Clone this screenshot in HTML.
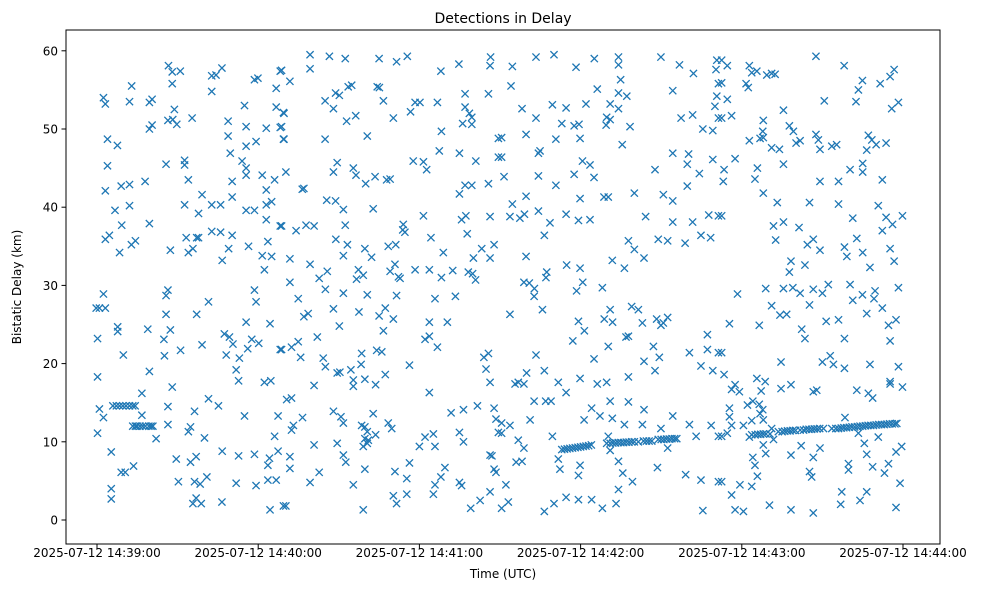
<!DOCTYPE html>
<html><head><meta charset="utf-8"><style>
html,body{margin:0;padding:0;background:#fff;}
svg text{font-family:"DejaVu Sans","Liberation Sans",sans-serif;fill:#000;}
</style></head><body>
<svg id="chart" width="984" height="590" viewBox="0 0 984 590" xmlns="http://www.w3.org/2000/svg">
<rect x="0" y="0" width="984" height="590" fill="#fff"/>
<text x="503" y="23" font-size="14" text-anchor="middle">Detections in Delay</text>
<text x="503" y="578" font-size="12" text-anchor="middle">Time (UTC)</text>
<text x="21" y="287" font-size="12" text-anchor="middle" transform="rotate(-90 21 287)">Bistatic Delay (km)</text>
<g id="marks"></g>
<g id="axes"></g>
<rect x="66" y="30" width="874" height="514" fill="none" stroke="#000" stroke-width="1"/>
</svg>
<script>
const xTickSeconds=[0,60,120,180,240,300];
const xTickLabels=["2025-07-12 14:39:00","2025-07-12 14:40:00","2025-07-12 14:41:00","2025-07-12 14:42:00","2025-07-12 14:43:00","2025-07-12 14:44:00"];
const yTicks=[0,10,20,30,40,50,60];
const p1t=[26.6,28.0,31.0,28.0,42.7,44.3,46.5,42.7,12.9,2.4,3.1,12.1,19.5,20.5,28.8,26.4,28.2,29.7,35.4,19.5,20.5,3.9,7.6,3.9,25.7,32.6,32.6,34.0,3.1,9.0,12.1,17.9,6.7,12.1,9.2,19.5,3.1,4.6,8.4,12.8,14.3,27.3,33.2,34.0,35.7,37.1,37.8,42.7,46.0,50.3,49.0,46.6,56.4,48.8,55.5,63.0,68.2,48.8,55.5,59.2,49.6,54.0,55.5,55.5,61.5,66.1,63.0,63.0,65.0,50.3,50.3,39.1,37.8,32.6,42.7,46.0,55.5,58.6,63.0,68.2,63.6,61.5,65.0,62.3,54.9,66.7,66.7,58.6,59.9,68.2,69.4,69.4,
2.4,-0.3,0.9,3.1,26.4,25.7,41.5,59.2,58.6,25.7,37.1,55.5,64.4,7.7,7.7,18.9,27.3,24.9,0.2,47.4,49.3,50.6,39.1,57.6,60.2,56.1,68.2,9.8,25.1,31.1,48.1,53.0,51.8,52.7,62.3,64.7,0.2,19.5,28.0,16.7,0.9,2.4,16.7,26.4,36.3,41.5,45.2,54.9,67.4,0.2,22.0,26.4,34.0,34.8,40.0,66.1,5.3,29.5,34.8,36.9,46.6,52.7,58.6,64.2,67.4,63.6,9.0,10.5,13.6,30.3,36.3,38.4,40.9,51.8,59.2,63.6,66.7,5.3,5.3,35.7,36.9,38.8,46.5,64.4,69.4];
const p1d=[58.1,57.3,57.4,55.8,56.8,56.9,57.8,54.8,55.5,54.0,53.2,53.5,53.4,53.8,52.5,51.1,51.2,50.6,51.4,50.0,50.5,48.7,47.9,45.3,45.5,46.0,45.4,43.5,42.1,42.7,42.9,43.3,39.6,40.2,37.7,37.9,35.9,36.4,34.2,35.2,35.7,34.5,36.1,34.2,34.7,36.1,36.1,36.9,36.8,36.4,34.7,33.2,35.0,51.0,50.3,50.1,50.2,49.1,47.8,48.4,46.9,45.9,45.0,44.1,44.1,43.5,42.2,40.3,40.7,43.3,41.3,41.6,39.2,40.3,40.3,40.3,39.6,39.6,38.4,37.6,35.6,33.8,33.7,32.0,53.0,52.8,55.2,56.3,56.5,57.4,52.1,48.7,
28.9,27.1,27.1,27.1,29.4,28.7,27.9,27.9,29.4,26.3,26.3,25.3,25.1,24.7,24.1,24.4,24.3,23.1,23.2,23.8,23.4,22.5,22.4,23.1,22.6,21.9,21.8,21.1,21.0,21.7,21.1,20.7,19.2,17.8,17.6,17.8,18.3,19.0,17.0,16.2,14.2,13.1,13.4,14.5,13.9,15.5,14.6,13.3,13.3,11.1,10.4,12.2,11.3,11.9,10.5,10.7,8.7,7.8,7.4,8.1,8.8,8.2,8.4,7.9,8.8,7.0,6.1,6.1,6.9,4.9,4.9,4.6,5.5,4.7,4.4,5.1,5.1,4.0,2.7,2.1,2.8,2.1,2.3,1.3,1.8];
const p2t=[79.3,86.5,92.4,105.0,111.5,115.5,79.3,128.0,134.7,146.5,146.3,68.7,71.8,88.8,90.2,93.5,94.8,104.3,105.1,84.9,88.0,106.6,118.4,120.2,126.7,116.7,137.0,145.7,137.0,138.6,139.5,136.1,139.5,110.3,92.9,96.3,69.6,68.7,69.6,84.9,100.6,128.2,149.4,127.4,134.9,141.0,149.4,117.7,121.5,122.7,89.4,88.0,95.4,96.4,100.0,103.5,107.8,109.1,70.3,76.4,77.0,134.9,137.0,139.5,145.7,85.5,88.8,91.7,102.8,68.7,74.1,77.8,80.8,92.4,121.5,135.7,137.3,146.3,114.0,114.6,113.8,88.9,93.2,91.7,99.7,102.2,124.3,137.8,108.4,111.2,71.8,79.3,82.7,85.7,85.0,91.7,97.3,96.6,99.1,100.6,109.1,110.9,112.2,112.8,118.4,123.7,128.2,132.4,138.2,139.8,140.9,140.1,143.2,147.8,146.3,128.9,
71.8,74.9,77.0,78.6,88.0,90.2,97.5,105.0,107.3,110.3,111.5,106.6,125.8,133.4,123.7,130.4,122.1,123.7,126.7,68.7,72.4,74.9,75.8,82.0,84.2,85.0,89.4,90.4,94.5,98.3,98.5,95.4,95.4,99.7,103.7,107.3,104.1,106.0,116.3,80.8,123.7,144.0,145.7,144.8,146.3,70.6,72.4,76.5,73.1,72.4,88.0,90.8,91.7,98.5,99.7,100.6,99.7,101.0,103.7,102.8,108.4,109.7,131.8,136.4,141.6,147.8,148.5,149.4,80.8,89.4,91.7,92.6,99.1,100.6,120.0,122.1,125.2,125.8,134.9,136.4,71.8,71.8,79.3,82.7,95.4,99.7,110.9,116.3,115.3,110.3,111.5,115.3,125.2,125.8,128.0,129.5,134.9,135.7,146.3,147.0,147.8,148.5,146.3,142.6,139.1,70.3,99.1];
const p2d=[59.5,59.3,59.0,59.0,58.6,59.3,57.7,57.4,58.3,59.2,58.1,57.5,56.1,54.6,54.3,55.4,55.6,55.4,55.3,53.6,52.6,53.6,53.4,53.4,53.4,52.2,54.5,54.5,52.8,52.0,51.5,50.7,50.6,51.4,51.0,51.7,52.0,50.3,48.7,48.7,49.1,49.7,48.8,47.2,46.9,45.9,46.4,45.9,45.8,44.8,45.7,44.5,45.0,44.1,43.0,43.9,43.5,43.6,44.5,42.3,42.4,41.7,42.8,42.8,43.0,40.9,40.8,39.7,39.8,37.6,37.0,37.7,37.6,37.7,38.9,38.4,38.9,38.8,37.8,36.8,37.1,35.9,35.2,33.8,34.7,33.6,36.1,36.6,35.0,35.2,33.4,32.7,30.9,31.8,29.5,29.0,32.0,30.8,31.3,28.8,31.8,32.7,31.1,30.9,32.0,32.0,31.0,31.9,31.7,31.5,30.7,33.5,34.7,35.2,33.5,34.2,
30.4,28.3,26.0,26.4,27.0,24.8,26.6,26.1,27.1,25.7,28.7,24.2,28.3,28.6,25.3,25.3,23.1,23.5,22.1,21.8,22.1,22.8,20.8,23.4,20.7,19.6,18.8,18.9,19.2,19.9,21.3,17.9,17.1,18.0,17.3,18.6,21.7,21.5,19.8,17.2,16.3,20.8,21.3,19.3,17.6,15.4,15.6,13.1,12.1,11.5,13.9,13.2,12.4,12.1,11.9,11.3,10.4,10.2,10.9,13.6,12.4,11.7,13.7,14.1,14.6,14.3,12.9,11.2,9.6,9.8,8.3,7.4,9.4,9.8,9.4,10.6,11.0,9.4,11.2,10.0,8.1,6.6,4.8,6.1,4.5,6.5,6.2,7.3,5.3,3.1,2.1,3.3,3.3,4.5,5.5,6.7,4.8,4.4,8.3,8.2,6.5,6.1,3.6,2.5,1.5,1.8,1.3];
const p3t=[154.6,163.4,170.1,178.3,185.1,194.1,194.1,194.9,209.9,216.8,222.0,230.7,230.4,154.1,186.2,194.1,197.2,214.3,231.3,230.7,230.0,158.2,169.5,174.6,182.0,191.0,194.1,163.4,173.0,177.6,179.4,189.7,191.0,189.5,198.4,217.4,221.7,225.5,229.2,231.3,159.7,170.8,179.8,150.6,195.5,150.6,164.3,164.9,180.7,183.5,185.0,177.6,164.3,170.8,151.5,207.7,214.3,220.2,219.7,224.2,219.7,229.2,154.6,159.7,179.8,188.7,190.3,200.0,210.8,214.3,153.7,157.4,159.1,164.3,168.6,174.6,179.2,183.5,166.5,204.2,214.3,221.7,227.7,231.3,224.8,228.4,218.9,208.9,212.4,197.8,200.0,203.6,191.8,196.3,159.7,174.8,179.8,158.9,160.9,162.8,162.7,167.4,167.1,178.5,180.8,188.1,
165.8,153.7,179.2,181.4,177.1,188.8,191.0,191.9,196.9,197.8,199.0,201.5,203.0,208.3,209.9,210.8,212.4,207.1,209.3,203.6,207.7,185.0,190.3,163.4,166.5,159.9,155.6,156.8,158.9,171.7,174.6,179.8,186.2,189.7,197.8,220.5,224.8,227.2,227.2,229.2,231.3,162.7,167.0,169.0,161.2,153.7,150.6,150.6,181.3,184.1,187.2,191.0,191.8,196.3,197.8,203.0,203.6,209.9,214.3,220.5,223.0,228.6,231.3,156.8,158.9,156.0,158.2,169.5,171.7,172.3,179.8,179.2,190.3,191.0,194.1,195.7,199.3,208.6,212.4,219.1,224.8,231.3,152.2,194.1,153.1,150.6,166.5,170.1,174.6,179.2,184.1,188.1,193.2,225.5];
const p3d=[58.0,59.2,59.5,57.9,59.0,59.2,58.2,56.3,59.2,58.2,57.1,58.8,57.6,55.5,55.1,54.6,54.2,54.9,55.8,54.2,52.9,52.6,53.1,52.7,53.2,53.2,52.6,51.4,50.7,50.4,50.6,51.5,51.2,50.5,50.3,51.4,51.8,50.0,49.8,51.4,49.3,48.7,48.8,48.9,48.0,46.4,46.9,47.2,45.9,45.4,43.8,44.2,44.0,42.8,43.9,44.8,46.9,46.8,45.5,44.3,42.7,46.1,40.4,41.4,41.1,41.3,41.3,41.8,41.6,40.8,38.8,38.6,39.1,39.5,38.0,39.1,38.3,38.4,36.4,38.8,38.1,38.1,39.0,38.9,36.4,36.1,35.4,35.9,35.7,35.7,34.6,33.5,33.2,32.2,33.7,32.6,32.2,30.4,30.3,29.6,28.6,31.7,31.0,29.3,30.4,29.7,
26.9,26.3,25.4,24.2,22.9,25.7,26.9,25.3,23.4,23.5,27.3,26.9,25.2,25.7,24.9,25.2,25.9,22.2,20.8,20.3,19.1,20.6,22.2,21.1,19.1,18.8,17.4,17.6,17.4,17.6,16.3,18.1,17.4,17.6,18.3,21.4,19.7,21.8,23.7,19.1,21.4,15.2,15.2,15.2,12.8,12.1,12.4,11.1,12.8,14.3,13.3,15.2,13.0,12.2,15.1,12.2,14.1,11.7,13.3,12.2,10.7,12.1,10.7,10.2,9.2,7.4,7.5,10.7,7.8,6.5,7.0,5.7,10.7,8.9,7.5,6.0,4.9,6.7,9.2,5.8,5.1,4.9,4.5,3.9,2.3,1.5,1.1,2.1,2.9,2.6,2.6,1.5,2.1,1.2];
const p4t=[232.5,234.6,242.8,243.7,245.6,249.3,251.1,252.4,267.6,278.1,232.5,241.6,242.4,234.6,255.5,270.7,282.5,283.4,284.9,291.5,295.2,296.7,295.8,298.3,232.5,236.2,248.0,247.8,246.8,242.8,248.0,251.1,254.0,257.7,259.2,260.2,261.7,267.6,268.5,269.1,273.5,275.3,287.1,288.4,290.0,293.7,286.5,285.0,285.0,280.3,237.5,245.8,244.9,233.4,233.1,255.5,269.1,276.0,292.3,248.0,253.2,265.2,276.0,290.8,232.5,251.8,255.5,261.3,252.6,264.4,266.6,269.1,281.3,282.8,278.2,279.1,285.0,293.7,296.1,299.8,292.3,295.2,296.7,258.3,257.7,263.5,287.7,238.4,248.9,251.1,254.2,256.7,255.5,259.0,261.7,266.6,270.0,272.2,265.2,280.3,281.3,284.9,289.6,289.2,292.3,286.5,298.3,
235.4,246.5,262.3,263.5,271.4,276.0,278.2,294.6,297.4,295.2,232.5,233.4,236.2,237.5,239.1,245.6,248.7,247.2,254.6,258.3,254.6,266.6,267.9,270.0,272.9,274.1,278.2,282.8,287.1,288.7,287.7,295.2,295.2,298.3,299.8,235.4,235.4,236.2,240.6,242.1,244.1,243.7,246.5,247.8,246.8,248.0,251.1,251.8,232.5,234.6,242.8,248.0,248.9,262.1,258.3,269.1,266.6,278.4,283.4,285.6,286.5,290.8,299.5,297.4,244.1,244.9,245.8,232.5,236.2,239.3,243.7,265.2,266.0,279.7,279.7,288.7,293.1,294.6,298.9,277.2,284.0,286.5,276.8,237.5,240.6,250.3,258.3,266.6,297.4];
const p4d=[58.8,58.1,58.1,57.2,57.4,56.9,57.1,57.0,59.3,58.1,55.9,55.8,55.3,53.8,52.4,53.6,53.5,55.0,56.2,55.8,56.7,57.6,52.6,53.4,51.4,51.7,51.1,49.7,48.8,48.5,48.9,47.6,47.4,50.4,49.7,48.2,48.5,49.3,48.6,47.4,47.8,48.0,49.2,48.6,48.0,48.2,47.3,45.6,44.5,44.8,46.2,45.0,43.6,44.8,43.3,45.5,43.3,43.3,43.5,41.8,40.6,40.6,40.4,40.2,38.9,37.6,38.1,37.4,35.8,35.2,35.9,34.5,38.6,36.0,34.9,33.7,34.2,38.7,37.8,38.9,37.0,34.7,33.1,33.1,31.7,32.6,32.3,28.9,29.6,27.4,26.2,26.3,29.6,29.7,29.0,29.5,29.0,30.1,27.5,30.1,28.1,28.8,29.3,28.3,27.1,26.4,29.7,
25.1,24.9,24.4,23.2,25.4,25.6,23.2,24.9,25.6,22.9,21.4,18.6,16.7,17.3,16.4,18.1,17.7,16.5,16.8,17.3,20.2,16.4,16.6,20.2,21.0,19.9,19.4,16.6,16.2,15.6,19.9,17.7,17.4,19.6,17.0,14.3,13.2,12.1,12.1,14.7,15.2,12.7,14.8,14.1,13.6,12.8,11.7,10.3,10.7,11.1,10.6,9.6,8.5,9.5,8.3,9.2,8.0,13.1,11.1,9.8,8.4,10.6,9.4,8.7,8.0,7.0,5.6,4.9,3.2,4.5,4.3,6.2,5.5,7.2,6.4,6.8,6.0,7.2,4.7,3.6,2.5,3.6,2.0,1.3,1.1,1.9,1.3,0.9,1.6];
const trackT=[5.9,7.2,8.4,9.6,10.8,12.1,13.3,14.2,13.3,14.3,14.9,16,17,18,19.3,20.1,20.8,173,174,175,176,177,178,179,180,181,182,183,184,189.7,191,192,193,194,195,196,197,198,199,200,201.5,203.4,204.5,205.5,206.5,208.9,210,211,212,213,214,215,215.8,243.7,245,246,247,248,249,250.5,253.6,255,256,257,258,259,260,261.7,263,264,265,266,267,268,269,270.4,273.5,275,276,277,278,279,280,281,282,283,284,285,286,287,288,289,290,291,292,293,294,295,296,297,297.7];
const trackD=[14.6,14.6,14.6,14.6,14.6,14.6,14.6,14.6,12.0,12.0,12.0,12.0,12.0,12.0,12.0,12.0,12.0,9.0,9.05,9.1,9.15,9.2,9.25,9.3,9.35,9.4,9.45,9.5,9.6,9.8,9.8,9.85,9.85,9.9,9.9,9.9,9.95,9.95,10.0,10.0,10.0,10.1,10.1,10.1,10.1,10.3,10.3,10.3,10.35,10.35,10.4,10.4,10.4,10.9,10.9,10.95,10.95,11.0,11.0,11.0,11.3,11.3,11.35,11.4,11.4,11.45,11.45,11.5,11.5,11.6,11.6,11.6,11.65,11.65,11.7,11.7,11.7,11.7,11.7,11.75,11.8,11.8,11.85,11.9,11.9,11.95,12.0,12.0,12.05,12.1,12.1,12.1,12.15,12.2,12.2,12.2,12.25,12.3,12.3,12.3,12.35,12.4,12.4];

const NS='http://www.w3.org/2000/svg';
const X0=97, PXPERSEC=161.2/60, Y0=520, PXPERKM=7.82;
function xScale(t){return X0+t*PXPERSEC;}
function yScale(v){return Y0-v*PXPERKM;}
const marks=document.getElementById('marks');
const axes=document.getElementById('axes');
function drawSeries(ts,ds){
  const n=Math.min(ts.length,ds.length);
  for(let i=0;i<n;i++){
    const cx=xScale(ts[i]), cy=yScale(ds[i]), r=3.6;
    const p=document.createElementNS(NS,'path');
    p.setAttribute('d','M'+(cx-r)+' '+(cy-r)+'L'+(cx+r)+' '+(cy+r)+'M'+(cx-r)+' '+(cy+r)+'L'+(cx+r)+' '+(cy-r));
    p.setAttribute('stroke','#1f77b4');
    p.setAttribute('stroke-width','1.3');
    p.setAttribute('fill','none');
    
    
    marks.appendChild(p);
  }
}
drawSeries(p1t,p1d);
drawSeries(p2t,p2d);
drawSeries(p3t,p3d);
drawSeries(p4t,p4d);
drawSeries(trackT,trackD);
xTickSeconds.forEach((s,i)=>{
  const x=xScale(s);
  const l=document.createElementNS(NS,'line');
  l.setAttribute('x1',x);l.setAttribute('x2',x);l.setAttribute('y1',544);l.setAttribute('y2',548.5);
  l.setAttribute('stroke','#000');
  
  
  axes.appendChild(l);
  const t=document.createElementNS(NS,'text');
  t.setAttribute('x',x);t.setAttribute('y',557);t.setAttribute('font-size','12');t.setAttribute('text-anchor','middle');
  t.textContent=xTickLabels[i];
  
  
  axes.appendChild(t);
});
yTicks.forEach(v=>{
  const y=yScale(v);
  const l=document.createElementNS(NS,'line');
  l.setAttribute('x1',61.5);l.setAttribute('x2',66);l.setAttribute('y1',y);l.setAttribute('y2',y);
  l.setAttribute('stroke','#000');
  
  
  axes.appendChild(l);
  const t=document.createElementNS(NS,'text');
  t.setAttribute('x',58);t.setAttribute('y',y+4.5);t.setAttribute('font-size','12');t.setAttribute('text-anchor','end');
  t.textContent=String(v);
  
  
  axes.appendChild(t);
});
</script>
</body></html>
